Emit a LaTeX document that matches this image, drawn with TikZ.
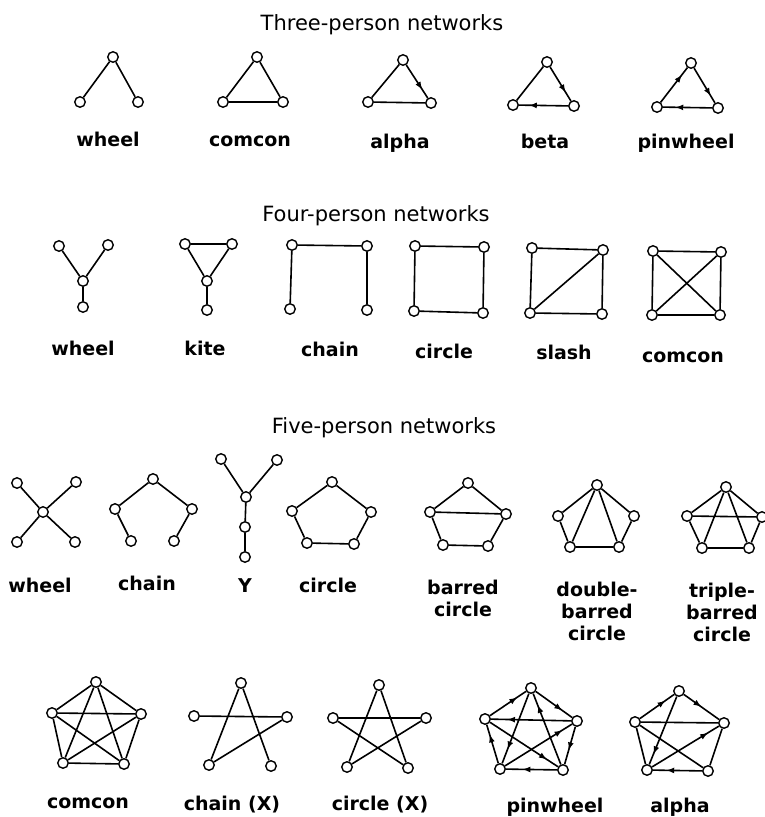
\documentclass[tikz,border=0pt]{standalone}
\usepackage{fontspec}
\setmainfont{DejaVu Sans}
\usetikzlibrary{arrows.meta, decorations.markings}

\tikzset{
  pers/.style={circle, draw, fill=white, inner sep=0pt, minimum size=10.5pt, line width=1.4pt},
  link/.style={line width=1.6pt},
  dirto/.style={decoration={markings, mark=at position #1 with {\arrow{Latex[length=8pt,width=6pt]}}}, postaction={decorate}},
  dirto/.default=0.7,
  heading/.style={font=\fontsize{21}{24}\selectfont, anchor=base, inner sep=0pt},
  netlabel/.style={font=\fontsize{19}{22}\selectfont\bfseries, anchor=base, inner sep=0pt, align=center},
  netlabeltop/.style={font=\fontsize{19}{22}\selectfont\bfseries, anchor=north, inner sep=0pt, align=center},
}

\begin{document}
\begin{tikzpicture}[x=1pt, y=-1pt]
  \useasboundingbox[fill=white] (0,0) rectangle (764,817);

  % headings
  \node[heading] (head3) at (382,30) {Three-person networks};
  \node[heading] (head4) at (376,221) {Four-person networks};
  \node[heading] (head5) at (384,433) {Five-person networks};

  % ---- three-person networks
  \foreach \n/\x/\y in {a/113/57, b/80/102, c/138/102}
    \node[pers] (tw\n) at (\x,\y) {};
  \draw[link] (twa) -- (twb) (twa) -- (twc);
  \node[netlabel] (twlab) at (108,146) {wheel};

  \foreach \n/\x/\y in {a/257/57, b/223/102, c/283/102}
    \node[pers] (tc\n) at (\x,\y) {};
  \draw[link] (tca) -- (tcb) -- (tcc) -- (tca);
  \node[netlabel] (tclab) at (250,146) {comcon};

  \foreach \n/\x/\y in {a/403/60, b/368/102, c/431/103}
    \node[pers] (ta\n) at (\x,\y) {};
  \draw[link] (taa) -- (tab) (tab) -- (tac);
  \draw[link, dirto=0.75] (taa) -- (tac);
  \node[netlabel] (talab) at (400,148) {alpha};

  \foreach \n/\x/\y in {a/547/62, b/513/105, c/574/106}
    \node[pers] (tb\n) at (\x,\y) {};
  \draw[link] (tba) -- (tbb);
  \draw[link, dirto=0.75] (tba) -- (tbc);
  \draw[link, dirto=0.8] (tbc) -- (tbb);
  \node[netlabel] (tblab) at (545,148) {beta};

  \foreach \n/\x/\y in {a/691/63, b/657/107, c/718/108}
    \node[pers] (tp\n) at (\x,\y) {};
  \draw[link, dirto=0.8] (tpb) -- (tpa);
  \draw[link, dirto=0.8] (tpa) -- (tpc);
  \draw[link, dirto=0.75] (tpc) -- (tpb);
  \node[netlabel] (tplab) at (686,148) {pinwheel};

  % ---- four-person networks
  \foreach \n/\x/\y in {a/59/246, b/108/245, c/83/281, d/83/307}
    \node[pers] (fw\n) at (\x,\y) {};
  \draw[link] (fwa) -- (fwc) (fwb) -- (fwc) (fwc) -- (fwd);
  \node[netlabel] (fwlab) at (83,355) {wheel};

  \foreach \n/\x/\y in {a/185/244, b/232/244, c/207/281, d/207/310}
    \node[pers] (fk\n) at (\x,\y) {};
  \draw[link] (fka) -- (fkb) -- (fkc) -- (fka) (fkc) -- (fkd);
  \node[netlabel] (fklab) at (205,355) {kite};

  \foreach \n/\x/\y in {a/292/245, b/367/246, c/290/309, d/367/310}
    \node[pers] (fc\n) at (\x,\y) {};
  \draw[link] (fcc) -- (fca) -- (fcb) -- (fcd);
  \node[netlabel] (fclab) at (330,356) {chain};

  \foreach \n/\x/\y in {a/415/246, b/484/247, c/414/311, d/483/313}
    \node[pers] (fo\n) at (\x,\y) {};
  \draw[link] (foa) -- (fob) -- (fod) -- (foc) -- (foa);
  \node[netlabel] (folab) at (444,358) {circle};

  \foreach \n/\x/\y in {a/532/248, b/603/250, c/530/313, d/602/314}
    \node[pers] (fs\n) at (\x,\y) {};
  \draw[link] (fsa) -- (fsb) -- (fsd) -- (fsc) -- (fsa) (fsc) -- (fsb);
  \node[netlabel] (fslab) at (564,359) {slash};

  \foreach \n/\x/\y in {a/653/251, b/721/252, c/652/315, d/720/315}
    \node[pers] (fm\n) at (\x,\y) {};
  \foreach \i/\j in {a/b, b/d, d/c, c/a, a/d, b/c}
    \draw[link] (fm\i) -- (fm\j);
  \node[netlabel] (fmlab) at (683,362) {comcon};

  % ---- five-person networks
  \foreach \n/\x/\y in {a/17/483, b/76/482, c/43/512, d/17/542, e/75/542}
    \node[pers] (vw\n) at (\x,\y) {};
  \foreach \j in {a, b, d, e}
    \draw[link] (vwc) -- (vw\j);
  \node[netlabel] (vwlab) at (40,592) {wheel};

  \foreach \n/\x/\y in {a/153/479, b/115/509, c/192/509, d/131/541, e/174/541}
    \node[pers] (vc\n) at (\x,\y) {};
  \draw[link] (vcd) -- (vcb) -- (vca) -- (vcc) -- (vce);
  \node[netlabel] (vclab) at (147,590) {chain};

  \foreach \n/\x/\y in {a/221/459, b/277/460, c/246/497, d/245/527, e/245/557}
    \node[pers] (vy\n) at (\x,\y) {};
  \draw[link] (vya) -- (vyc) (vyb) -- (vyc) (vyc) -- (vyd) -- (vye);
  \node[netlabel] (vylab) at (245,592) {Y};

  \foreach \n/\x/\y in {a/332/482, b/292/511, c/371/512, d/307/543, e/354/544}
    \node[pers] (vo\n) at (\x,\y) {};
  \draw[link] (voa) -- (vob) -- (vod) -- (voe) -- (voc) -- (voa);
  \node[netlabel] (volab) at (328,592) {circle};

  \foreach \n/\x/\y in {a/468/483, b/430/512, c/506/514, d/443/545, e/488/546}
    \node[pers] (vb\n) at (\x,\y) {};
  \draw[link] (vba) -- (vbb) -- (vbd) -- (vbe) -- (vbc) -- (vba) (vbb) -- (vbc);
  \node[netlabeltop] (vblab) at (463,580) {barred\\circle};

  \foreach \n/\x/\y in {a/597/485, b/558/516, c/634/516, d/570/547, e/619/547}
    \node[pers] (vd\n) at (\x,\y) {};
  \draw[link] (vda) -- (vdb) -- (vdd) -- (vde) -- (vdc) -- (vda) (vda) -- (vdd) (vda) -- (vde);
  \node[netlabeltop] (vdlab) at (597,582) {double-\\barred\\circle};

  \foreach \n/\x/\y in {a/726/487, b/687/516, c/762/517, d/702/548, e/749/548}
    \node[pers] (vt\n) at (\x,\y) {};
  \draw[link] (vta) -- (vtb) -- (vtd) -- (vte) -- (vtc) -- (vta) (vta) -- (vtd) (vta) -- (vte) (vtb) -- (vtc);
  \node[netlabeltop] (vtlab) at (722,583) {triple-\\barred\\circle};

  % bottom row
  \foreach \n/\x/\y in {a/96/682, b/52/713, c/141/714, d/63/763, e/124/764}
    \node[pers] (xm\n) at (\x,\y) {};
  \foreach \i/\j in {a/b, a/c, a/d, a/e, b/c, b/d, b/e, c/d, c/e, d/e}
    \draw[link] (xm\i) -- (xm\j);
  \node[netlabel] (xmlab) at (88,808) {comcon};

  \foreach \n/\x/\y in {a/241/683, b/194/716, c/287/717, d/209/765, e/271/766}
    \node[pers] (xc\n) at (\x,\y) {};
  \draw[link] (xcb) -- (xcc) -- (xcd) -- (xca) -- (xce);
  \node[netlabel] (xclab) at (232,810) {chain (X)};

  \foreach \n/\x/\y in {a/379/685, b/333/718, c/426/718, d/347/767, e/408/768}
    \node[pers] (xo\n) at (\x,\y) {};
  \draw[link] (xob) -- (xoc) -- (xod) -- (xoa) -- (xoe) -- (xob);
  \node[netlabel] (xolab) at (380,810) {circle (X)};

  \foreach \n/\x/\y in {a/531/688, b/485/719, c/577/721, d/500/769, e/563/770}
    \node[pers] (xp\n) at (\x,\y) {};
  \foreach \i/\j/\p in {b/a/0.76, a/c/0.73, c/e/0.63, e/d/0.68, d/b/0.75,
                        c/b/0.8, b/e/0.84, e/a/0.84, a/d/0.8, d/c/0.86}
    \draw[link, dirto=\p] (xp\i) -- (xp\j);
  \node[netlabel] (xplab) at (555,812) {pinwheel};

  \foreach \n/\x/\y in {a/679/691, b/635/722, c/724/723, d/647/770, e/708/771}
    \node[pers] (xa\n) at (\x,\y) {};
  \draw[link] (xac) -- (xae) (xad) -- (xab) (xab) -- (xac) (xab) -- (xae);
  \foreach \i/\j/\p in {b/a/0.75, a/c/0.5, e/d/0.73, a/d/0.85, d/c/0.84}
    \draw[link, dirto=\p] (xa\i) -- (xa\j);
  \node[netlabel] (xalab) at (680,812) {alpha};
\end{tikzpicture}
\end{document}
